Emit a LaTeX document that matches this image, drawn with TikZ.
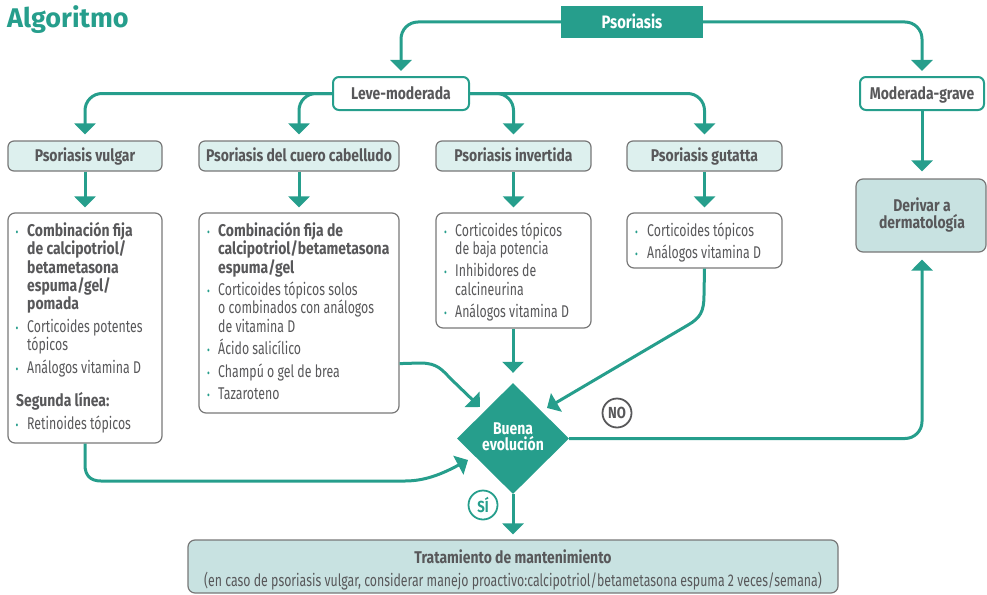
\documentclass[tikz,border=0pt]{standalone}
\usepackage{fontspec}
\setmainfont{Fira Sans}[FakeStretch=0.725, BoldFeatures={FakeStretch=0.82}]
\newfontfamily\titlefont{Fira Sans}
\usetikzlibrary{arrows.meta,shapes.geometric,calc}
\definecolor{teal1}{RGB}{38,158,140}
\definecolor{txtgray}{RGB}{88,88,90}
\definecolor{bordgray}{RGB}{120,120,120}
\definecolor{fillA}{RGB}{221,240,238}
\definecolor{fillB}{RGB}{200,226,225}
\newcounter{lnc}
\newcommand\Ln[3]{\stepcounter{lnc}\node[ltxt] (ln\arabic{lnc}) at (#1,#2) {#3};}
\newcommand\Bl[4]{\stepcounter{lnc}\node[bul] (bu\arabic{lnc}) at (#1,#3) {•};\node[ltxt] (ln\arabic{lnc}) at (#2,#3) {#4};}
\begin{document}
\begin{tikzpicture}[x=1pt,y=-1pt,
  ltxt/.style={anchor=base west, inner sep=0pt, font=\fontsize{17}{19}\selectfont, text=txtgray},
  bul/.style={anchor=base west, inner sep=0pt, font=\fontsize{12}{14}\selectfont, text=teal1},
  ctxt/.style={anchor=base, inner sep=0pt, font=\bfseries\fontsize{17}{19}\selectfont, text=txtgray},
  lab/.style={inner sep=0pt, font=\bfseries\fontsize{17}{19}\selectfont, text=txtgray, text height=11.7pt, text depth=0pt},
  box2/.style={lab, draw=bordgray, line width=1.2pt, fill=fillA, rounded corners=6pt, minimum height=30pt},
  box3/.style={draw=bordgray, line width=1.2pt, fill=white, rounded corners=7pt, inner sep=0pt},
  boxB/.style={draw=bordgray, line width=1.2pt, fill=fillB, rounded corners=7pt, inner sep=0pt},
  levebox/.style={lab, draw=teal1, line width=2pt, fill=white, rounded corners=6pt, minimum height=33pt},
  conn/.style={draw=teal1, line width=3pt, -{Triangle[width=21pt,length=11pt]}, rounded corners=17pt},
  conncurve/.style={draw=teal1, line width=3pt, -{Triangle[width=21pt,length=11pt]}},
  ring/.style={circle, inner sep=0pt, minimum size=29pt, line width=1.8pt, font=\bfseries\fontsize{16}{18}\selectfont}
]
\useasboundingbox (0,0) rectangle (987,594);

% title
\node[anchor=base west, inner sep=0pt, font=\titlefont\bfseries\fontsize{27}{30}\selectfont, text=teal1] (title) at (7,27.3) {Algoritmo};

% top level
\node[lab, fill=teal1, text=white, minimum width=142pt, minimum height=32pt, font=\bfseries\fontsize{18}{20}\selectfont, text height=12.5pt] (psor) at (632,22) {Psoriasis};
\node[levebox, minimum width=136pt] (leve) at (401,93.5) {Leve-moderada};
\node[levebox, minimum width=124pt] (mod) at (922,93.5) {Moderada-grave};

% row 2
\node[box2, minimum width=154pt] (vulg2) at (85,156) {Psoriasis vulgar};
\node[box2, minimum width=200pt] (cuero2) at (299,156) {Psoriasis del cuero cabelludo};
\node[box2, minimum width=155pt] (inv2) at (513.5,156) {Psoriasis invertida};
\node[box2, minimum width=155pt] (gut2) at (704.5,156) {Psoriasis gutatta};

% row 3 boxes
\node[box3, minimum width=154pt, minimum height=230pt] (vulg3) at (85,328) {};
\node[box3, minimum width=200pt, minimum height=200pt] (cuero3) at (299,313) {};
\node[box3, minimum width=155pt, minimum height=115pt] (inv3) at (513.5,270.5) {};
\node[box3, minimum width=155pt, minimum height=55pt] (gut3) at (704.5,240.5) {};

% derivar
\node[boxB, minimum width=130pt, minimum height=73pt] (der) at (921,215.5) {};
\node[ctxt] (derA) at (922,211.7) {Derivar a};
\node[ctxt] (derB) at (922,228) {dermatología};

% decision
\node[diamond, fill=teal1, minimum width=112pt, minimum height=111pt, inner sep=0pt] (diam) at (513,438.5) {};
\node[ctxt, text=white] (diamA) at (513,434) {Buena};
\node[ctxt, text=white] (diamB) at (513,450.7) {evolución};

% maintenance
\node[boxB, minimum width=650pt, minimum height=53pt] (trat) at (513,566.5) {};
\node[ctxt] (tratA) at (513,563.5) {Tratamiento de mantenimiento};
\node[ctxt, font=\fontsize{17}{19}\selectfont] (tratB) at (513,586) {(en caso de psoriasis vulgar, considerar manejo proactivo:calcipotriol/betametasona espuma 2 veces/semana)};

% rings
\node[ring, draw=txtgray, text=txtgray] (no) at (617,413) {NO};
\node[ring, draw=teal1, text=teal1] (si) at (483,505) {SÍ};

% list texts: vulgar
\Bl{15.5}{27}{236.5}{\textbf{Combinación fija}}
\Ln{27}{254.8}{\textbf{de calcipotriol/}}
\Ln{27}{273.1}{\textbf{betametasona}}
\Ln{27}{291.4}{\textbf{espuma/gel/}}
\Ln{27}{309.7}{\textbf{pomada}}
\Bl{15.5}{27}{332.2}{Corticoides potentes}
\Ln{27}{350.5}{tópicos}
\Bl{15.5}{27}{373}{Análogos vitamina D}
\Ln{16}{406.5}{\textbf{Segunda línea:}}
\Bl{15.5}{27}{429}{Retinoides tópicos}

% cuero
\Bl{207}{218}{236.5}{\textbf{Combinación fija de}}
\Ln{218}{254.8}{\textbf{calcipotriol/betametasona}}
\Ln{218}{273.1}{\textbf{espuma/gel}}
\Bl{207}{218}{295.6}{Corticoides tópicos solos}
\Ln{218}{313.9}{o combinados con análogos}
\Ln{218}{332.2}{de vitamina D}
\Bl{207}{218}{354.7}{Ácido salicílico}
\Bl{207}{218}{377.2}{Champú o gel de brea}
\Bl{207}{218}{399.7}{Tazaroteno}

% invertida
\Bl{444}{455}{236}{Corticoides tópicos}
\Ln{455}{254.3}{de baja potencia}
\Bl{444}{455}{276.8}{Inhibidores de}
\Ln{455}{295.1}{calcineurina}
\Bl{444}{455}{317.6}{Análogos vitamina D}

% gutatta
\Bl{635}{647}{236}{Corticoides tópicos}
\Bl{635}{647}{258.5}{Análogos vitamina D}

% connectors
\draw[conn, shorten >=5pt] (psor.west) -| (leve.north);
\draw[conn, shorten >=5pt] (psor.east) -| (mod.north);
\draw[conn, shorten >=6pt] (leve.west) -| (vulg2.north);
\draw[conn, shorten >=6pt] (leve.west) -| (cuero2.north);
\draw[conn, shorten >=6pt] (leve.east) -| (inv2.north);
\draw[conn, shorten >=6pt] (leve.east) -| (gut2.north);
\draw[conn, shorten >=5pt] (vulg2.south) -- (vulg2.south |- vulg3.north);
\draw[conn, shorten >=5pt] (cuero2.south) -- (cuero2.south |- cuero3.north);
\draw[conn, shorten >=5pt] (inv2.south) -- (inv2.south |- inv3.north);
\draw[conn, shorten >=5pt] (gut2.south) -- (gut2.south |- gut3.north);
\draw[conn, shorten >=7pt] (mod.south) -- (mod.south |- der.north);
\draw[conn, shorten >=10pt] (inv3.south -| diam.north) -- (diam.north);
\draw[conn, shorten >=7pt] (diam.east) -| (mod.south |- der.south);
\draw[conn, shorten >=5pt] (diam.south) -- (trat.north);

\coordinate (cuT) at (480,407);
\coordinate (guT) at (547,408);
\coordinate (vuT) at (468,460);
\draw[conncurve] ($(cuero3.south east)+(0,-50)$) -- (420,363) .. controls (438,363) and (442,370) .. (452,380) -- (cuT);
\draw[conncurve] (gut3.south) -- (704,295) .. controls (704,312) and (700,318) .. (688,325) -- (guT);
\draw[conncurve] (vulg3.south) -- (85,465) .. controls (85,475) and (90,481) .. (101,481) -- (405,481) .. controls (425,481) and (442,474) .. (vuT);
\end{tikzpicture}
\end{document}
